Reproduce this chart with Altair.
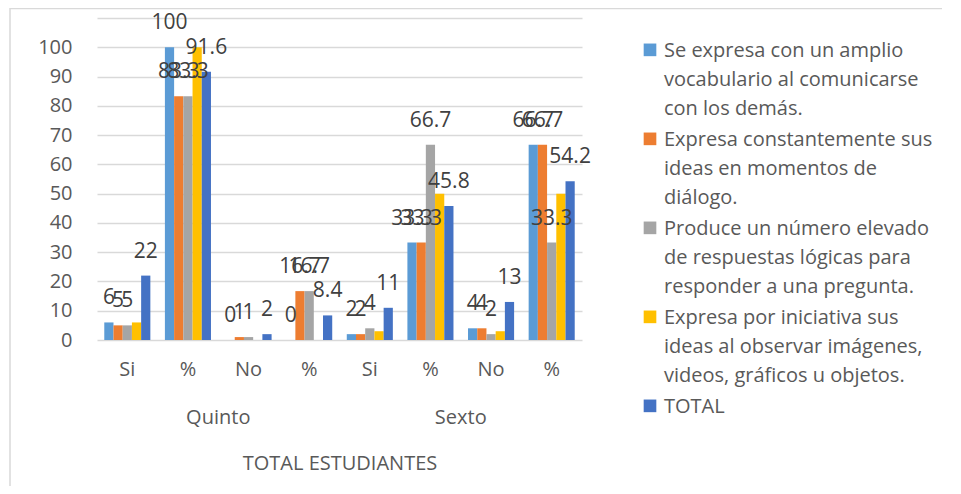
import altair as alt
import pandas as pd

categories = ["Si", "%", "No", "%", "Si", "%", "No", "%"]
groups = ["Quinto", "Sexto"]
series_names = [
    "Se expresa con un amplio|vocabulario al comunicarse|con los demás.",
    "Expresa constantemente sus|ideas en momentos de|diálogo.",
    "Produce un número elevado|de respuestas lógicas para|responder a una pregunta.",
    "Expresa por iniciativa sus|ideas al observar imágenes,|videos, gráficos u objetos.",
    "TOTAL",
]
s1 = [6, 100, 0, 0, 2, 33.3, 4, 66.7]
s2 = [5, 83.3, 1, 16.7, 2, 33.3, 4, 66.7]
s3 = [5, 83.3, 1, 16.7, 4, 66.7, 2, 33.3]
s4 = [6, 100, 0, 0, 3, 50, 3, 50]
s5 = [22, 91.6, 2, 8.4, 11, 45.8, 13, 54.2]
labelled = [True, True, True, False, True]
colors = ["#5B9BD5", "#ED7D31", "#A5A5A5", "#FFC000", "#4472C4"]

rows = []
for si, (name, vals) in enumerate(zip(series_names, [s1, s2, s3, s4, s5])):
    for ci, v in enumerate(vals):
        rows.append({"idx": ci, "series": name, "s": si, "value": v,
                     "label": f"{v:g}" if labelled[si] else ""})
df = pd.DataFrame(rows)
gdf = pd.DataFrame({"idx": [1, 5], "g": groups})

W, H = 485, 322
FONT = "Open Sans"
TXT = "#595959"
FS = 20

cat_expr = "[" + ",".join(f"'{c}'" for c in categories) + "][+datum.value]"

x = alt.X("idx:N", sort=list(range(8)),
          scale=alt.Scale(paddingInner=0.24, paddingOuter=0.12),
          axis=alt.Axis(labelExpr=cat_expr, labelAngle=0, labelFontSize=FS,
                        labelColor=TXT, labelFont=FONT, labelPadding=19,
                        ticks=False, domain=False, grid=False,
                        title="TOTAL ESTUDIANTES", titleFontSize=FS,
                        titleFontWeight="normal", titleColor=TXT, titleFont=FONT,
                        titlePadding=74))
y = alt.Y("value:Q", scale=alt.Scale(domain=[0, 110], nice=False),
          axis=alt.Axis(values=list(range(0, 120, 10)),
                        labelExpr="datum.value > 100 ? '' : datum.label",
                        labelFontSize=FS, labelColor=TXT, labelFont=FONT,
                        labelPadding=25, ticks=False, domain=False,
                        gridColor="#D9D9D9", gridWidth=1.5, title=None))
color = alt.Color("series:N", sort=series_names,
                  scale=alt.Scale(domain=series_names, range=colors),
                  legend=alt.Legend(title=None, orient="none", legendX=543, legendY=13,
                                    labelExpr="split(datum.label, '|')",
                                    labelFontSize=FS, labelColor=TXT, labelFont=FONT,
                                    labelLimit=400,
                                    symbolType="M-1,0.4H1V2.4H-1Z",
                                    symbolSize=160, symbolStrokeWidth=0,
                                    labelBaseline="top", rowPadding=1))
xoff = alt.XOffset("s:O", scale=alt.Scale(paddingInner=0, paddingOuter=0))

base = alt.Chart(df)
bars = base.mark_bar().encode(x=x, y=y, color=color, xOffset=xoff)
texts = base.mark_text(baseline="middle", dy=-24, fontSize=21, color="#404040",
                       font=FONT).encode(x=x, y=y, xOffset=xoff, text="label:N")
glabels = alt.Chart(gdf).mark_text(fontSize=FS, color=TXT, font=FONT, dx=W / 16,
                                   baseline="middle").encode(
    x=x, y=alt.value(H + 78), text="g:N")
frame = alt.Chart(pd.DataFrame({"k": [0]})).mark_rect(
    fill=None, stroke="#D9D9D9", strokeWidth=1.5).encode(
    x=alt.value(-87), x2=alt.value(W + 500),
    y=alt.value(-9.5), y2=alt.value(H + 300))

chart = alt.layer(frame, bars, texts, glabels).properties(
    width=W, height=H,
    autosize=alt.AutoSizeParams(type="none"),
    padding={"left": 89, "top": 10, "right": 360, "bottom": 146},
).configure(style={"guide-label": {"lineHeight": 29}}).configure_view(stroke=None)

chart.save("out.html", embed_options={"renderer": "svg", "actions": False})
